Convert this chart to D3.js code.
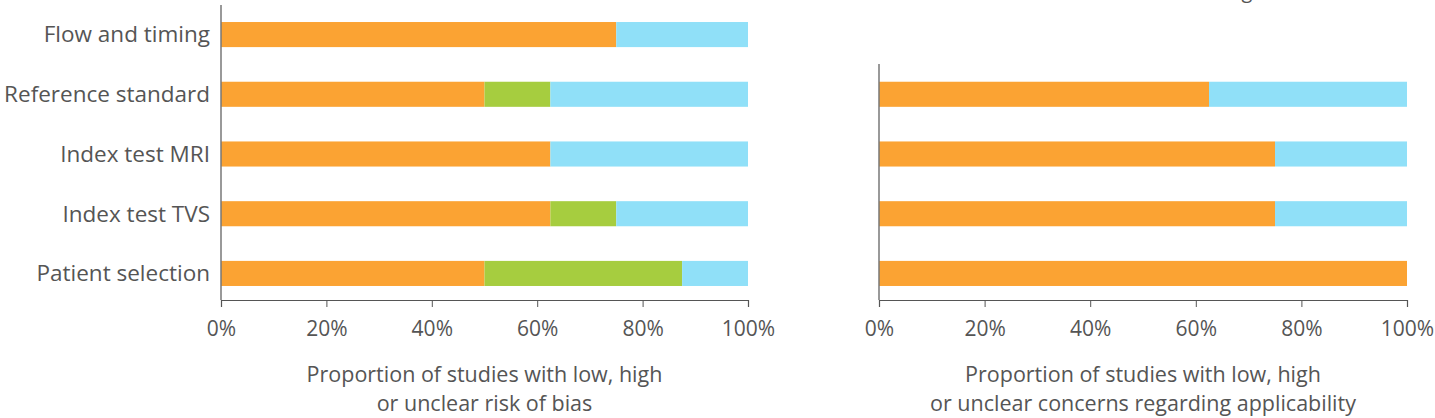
<!DOCTYPE html>
<html>
<head>
<meta charset="utf-8">
<script src="https://cdn.jsdelivr.net/npm/d3@7"></script>
<style>
  body { margin: 0; background: #fff; }
  text { font-family: "Open Sans", Lato, sans-serif; fill: #555; }
</style>
</head>
<body>
<div id="chart-area"></div>
<script>
// data (share of studies, 8 studies in total)
const domains = ["Flow and timing", "Reference standard", "Index test MRI", "Index test TVS", "Patient selection"]
const biasLow = [0.75, 0.5, 0.625, 0.625, 0.5]
const biasHigh = [0, 0.125, 0, 0.125, 0.375]
const biasUnclear = [0.25, 0.375, 0.375, 0.25, 0.125]

const applDomains = ["Reference standard", "Index test MRI", "Index test TVS", "Patient selection"]
const applLow = [0.625, 0.75, 0.75, 1]
const applHigh = [0, 0, 0, 0]
const applUnclear = [0.375, 0.25, 0.25, 0]

const tickValues = [0, 0.2, 0.4, 0.6, 0.8, 1]
const keys = ["low", "high", "unclear"]
const colors = { low: "#fba333", high: "#a6cd3f", unclear: "#90e0f8" }

const WIDTH = 1435
const HEIGHT = 418

const svg = d3.select("#chart-area").append("svg")
    .attr("width", WIDTH)
    .attr("height", HEIGHT)

// panel title is cropped off at the top; only a descender is left
svg.append("text")
    .attr("x", 1247)
    .attr("y", -2)
    .attr("text-anchor", "middle")
    .attr("font-size", "20px")
    .text("g")

const y = d3.scaleBand()
    .domain(domains)
    .range([4.7, 303.3])
    .paddingInner(0.58)
    .paddingOuter(0.29)

function drawPanel(opts) {
    const x = d3.scaleLinear().domain([0, 1]).range([opts.left, opts.right])
    const rows = opts.cats.map((c, i) => ({ cat: c, low: opts.low[i], high: opts.high[i], unclear: opts.unclear[i] }))
    const stacked = d3.stack().keys(keys)(rows)

    const g = svg.append("g")

    g.selectAll("g.layer")
        .data(stacked)
        .join("g")
        .attr("class", "layer")
        .attr("fill", d => colors[d.key])
        .selectAll("rect")
        .data(d => d)
        .join("rect")
        .attr("x", d => x(d[0]))
        .attr("width", d => x(d[1]) - x(d[0]))
        .attr("y", d => y(d.data.cat))
        .attr("height", y.bandwidth())

    // y axis line
    g.append("line")
        .attr("x1", x(0)).attr("x2", x(0))
        .attr("y1", opts.axisTop).attr("y2", 300)
        .attr("stroke", "#777")
        .attr("stroke-width", 1.5)

    if (opts.labels) {
        g.selectAll("text.cat")
            .data(opts.cats)
            .join("text")
            .attr("class", "cat")
            .attr("x", x(0) - 11)
            .attr("y", d => y(d) + y.bandwidth() / 2)
            .attr("dy", "0.35em")
            .attr("text-anchor", "end")
            .attr("font-size", "22.5px")
            .text(d => d)
    }

    const xAxis = g.append("g")
        .attr("transform", "translate(0,300)")
        .call(d3.axisBottom(x).tickValues(tickValues).tickFormat(d3.format(".0%")).tickSize(7).tickPadding(14))
    xAxis.select(".domain").attr("stroke", "#555").attr("stroke-width", 1.2)
    xAxis.selectAll(".tick line").attr("stroke", "#555")
    xAxis.selectAll(".tick text")
        .attr("font-size", "21px")
        .attr("font-family", "'Open Sans', sans-serif")
        .attr("fill", "#555")

    // axis title, two lines
    const cx = (opts.left + opts.right) / 2
    g.selectAll("text.axisLabel")
        .data(opts.title)
        .join("text")
        .attr("class", "axisLabel")
        .attr("x", cx)
        .attr("y", (d, i) => 381.5 + i * 29.5)
        .attr("text-anchor", "middle")
        .attr("font-size", "21.5px")
        .text(d => d)
}

drawPanel({
    left: 221, right: 748, axisTop: 5, labels: true,
    cats: domains, low: biasLow, high: biasHigh, unclear: biasUnclear,
    title: ["Proportion of studies with low, high", "or unclear risk of bias"]
})

drawPanel({
    left: 879, right: 1407, axisTop: 64, labels: false,
    cats: applDomains, low: applLow, high: applHigh, unclear: applUnclear,
    title: ["Proportion of studies with low, high", "or unclear concerns regarding applicability"]
})
</script>
</body>
</html>
